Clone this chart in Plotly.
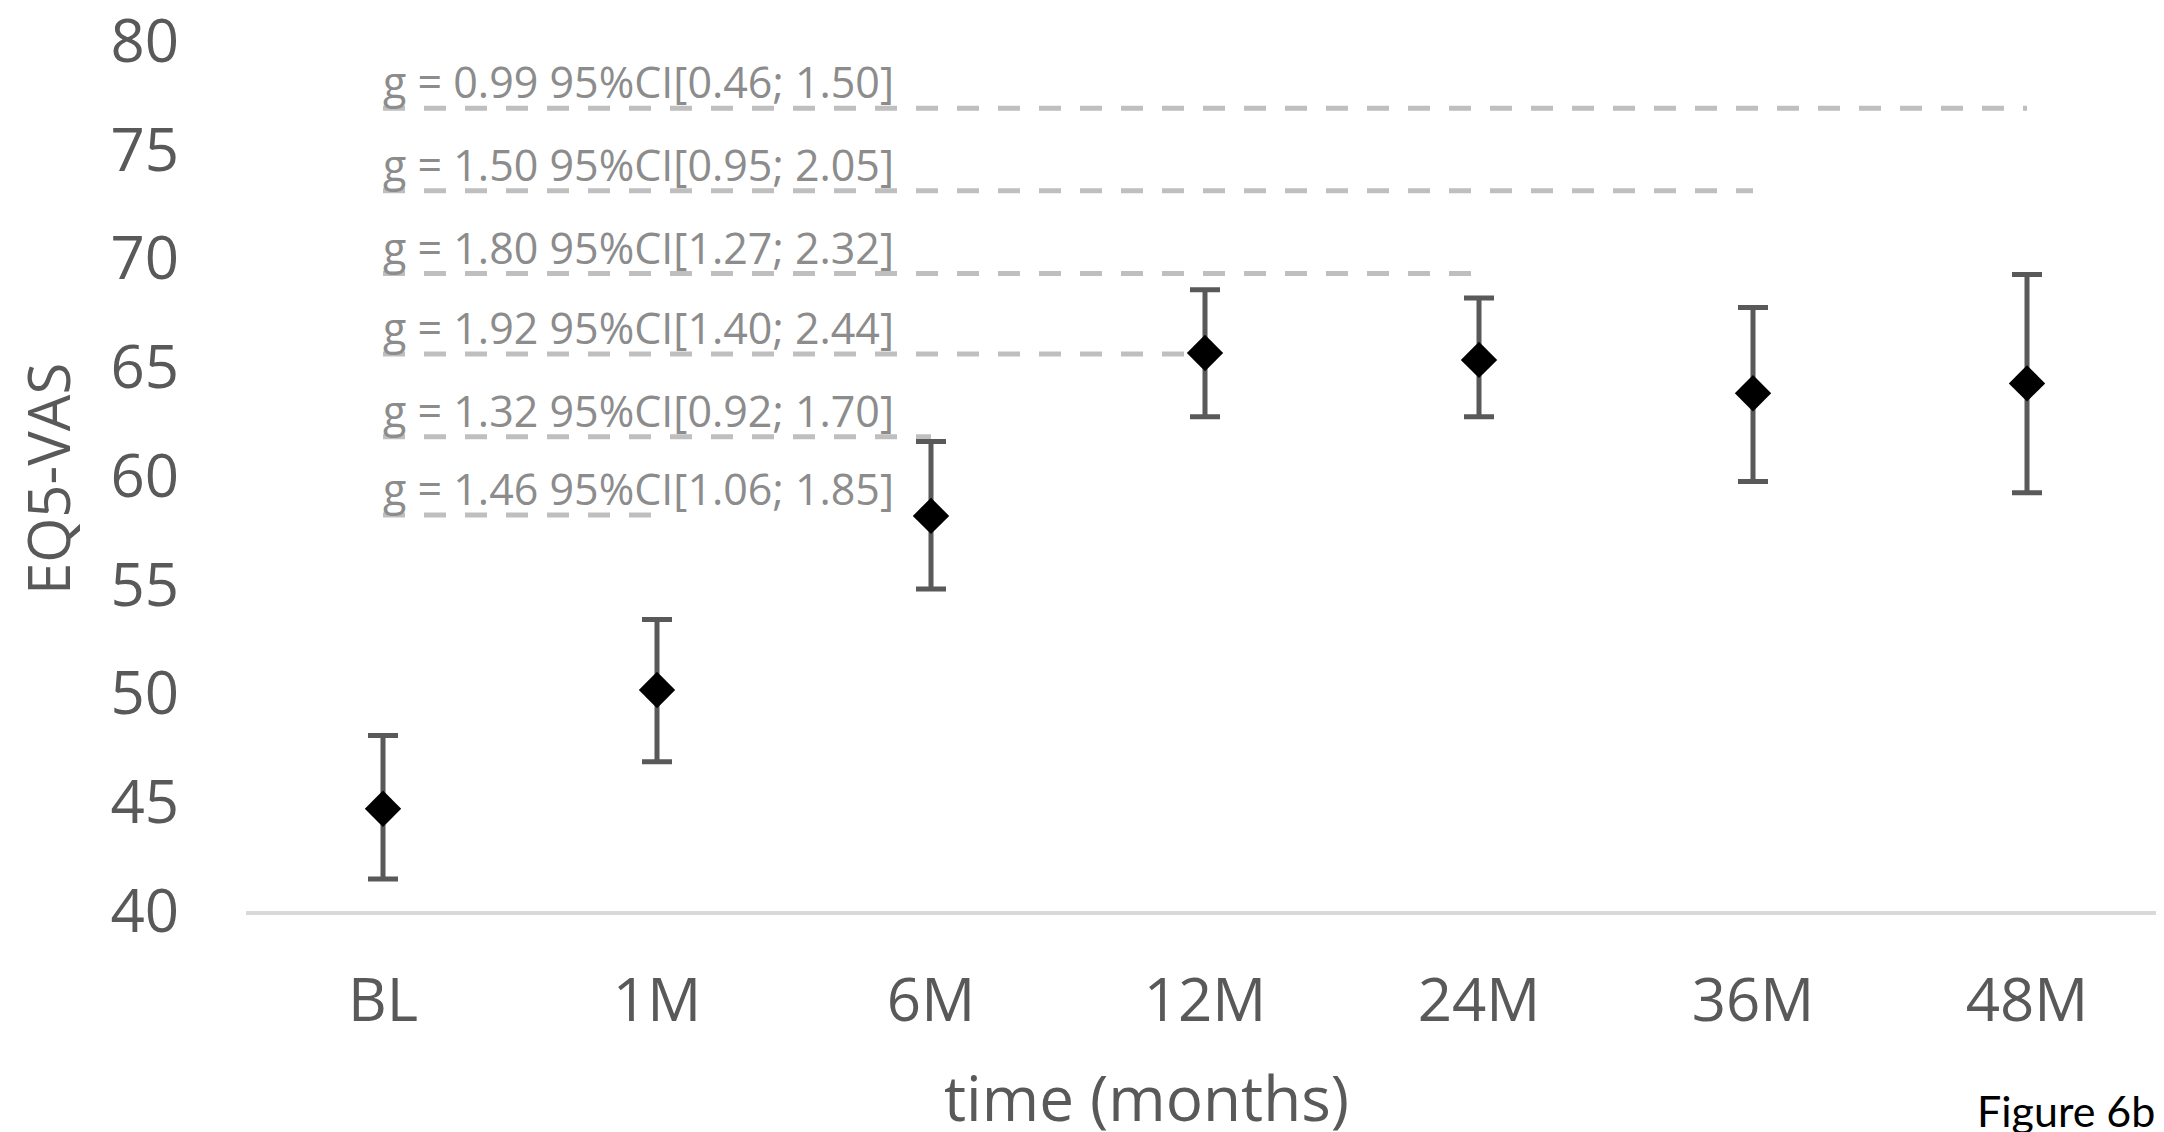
import plotly.graph_objects as go

# ---- data ----
categories = ["BL", "1M", "6M", "12M", "24M", "36M", "48M"]
means = [44.70, 50.16, 58.16, 65.65, 65.33, 63.80, 64.25]
upper = [48.07, 53.40, 61.58, 68.55, 68.18, 67.74, 69.26]
lower = [41.47, 46.86, 54.80, 62.72, 62.72, 59.74, 59.23]

effect_labels = [
    "g = 0.99 95%CI[0.46; 1.50]",
    "g = 1.50 95%CI[0.95; 2.05]",
    "g = 1.80 95%CI[1.27; 2.32]",
    "g = 1.92 95%CI[1.40; 2.44]",
    "g = 1.32 95%CI[0.92; 1.70]",
    "g = 1.46 95%CI[1.06; 1.85]",
]
effect_levels = [76.9, 73.1, 69.3, 65.6, 61.8, 58.2]
effect_end = ["48M", "36M", "24M", "12M", "6M", "1M"]
effect_start = "BL"

y_ticks = [40, 45, 50, 55, 60, 65, 70, 75, 80]

err_plus = [u - m for u, m in zip(upper, means)]
err_minus = [m - l for m, l in zip(means, lower)]

FONT = "Open Sans, Noto Sans, sans-serif"
TICK_COLOR = "#595959"

# page body has an 8px default margin: size the figure so it fits the window
W, H = 2156, 1124
L, R, T, B = 238, 0, 11, 221
pw, ph = W - L - R, H - T - B

fig = go.Figure()

# dashed comparison lines (drawn under the points)
for lvl, end in zip(effect_levels, effect_end):
    fig.add_trace(go.Scatter(
        x=[effect_start, end], y=[lvl, lvl], mode="lines",
        line=dict(color="#BFBFBF", width=5, dash="22px,19px"),
        hoverinfo="skip", showlegend=False,
    ))

fig.add_trace(go.Scatter(
    x=categories, y=means, mode="markers",
    marker=dict(symbol="diamond", size=28, color="black", line=dict(width=0)),
    error_y=dict(type="data", symmetric=False, array=err_plus, arrayminus=err_minus,
                 color="#595959", thickness=5, width=15),
    showlegend=False,
))

for txt, lvl in zip(effect_labels, effect_levels):
    fig.add_annotation(
        x=effect_start, y=lvl, xref="x", yref="y", text=txt, showarrow=False,
        xanchor="left", yanchor="bottom", xshift=-2, yshift=-5,
        font=dict(family=FONT, size=43, color="#8C8C8C"),
    )


def px_to_paper(px, py):
    return (px - L) / pw, (H - B - py) / ph


ax_, ay_ = px_to_paper(1138, 1089)
fig.add_annotation(
    x=ax_, y=ay_, xref="paper", yref="paper", text="time (months)", showarrow=False,
    xanchor="center", yanchor="middle",
    font=dict(family=FONT, size=62, color=TICK_COLOR),
)
ax_, ay_ = px_to_paper(40, 471)
fig.add_annotation(
    x=ax_, y=ay_, xref="paper", yref="paper", text="EQ5-VAS", textangle=-90,
    showarrow=False, xanchor="center", yanchor="middle",
    font=dict(family=FONT, size=58, color=TICK_COLOR),
)
ax_, ay_ = px_to_paper(2149, 1102)
fig.add_annotation(
    x=ax_, y=ay_, xref="paper", yref="paper", text="Figure 6b", showarrow=False,
    xanchor="right", yanchor="middle",
    font=dict(family="Lato, Open Sans, sans-serif", size=43, color="black"),
)

fig.update_layout(
    width=W, height=H,
    margin=dict(l=L, r=R, t=T, b=B, autoexpand=False),
    paper_bgcolor="white", plot_bgcolor="white",
    font=dict(family=FONT, color=TICK_COLOR),
    xaxis=dict(
        type="category", categoryorder="array", categoryarray=categories,
        range=[-0.5, len(categories) - 0.5],
        showgrid=False, zeroline=False, showline=True, linecolor="#D9D9D9", linewidth=4,
        ticks="", tickfont=dict(family=FONT, size=60, color=TICK_COLOR),
        ticklabelstandoff=34,
    ),
    yaxis=dict(
        range=[40, 81], tickvals=y_ticks, showgrid=False, zeroline=False, showline=False,
        ticks="", tickfont=dict(family=FONT, size=60, color=TICK_COLOR),
        ticklabelstandoff=66, ticklabeloverflow="allow",
    ),
)

fig.write_html("out.html")
